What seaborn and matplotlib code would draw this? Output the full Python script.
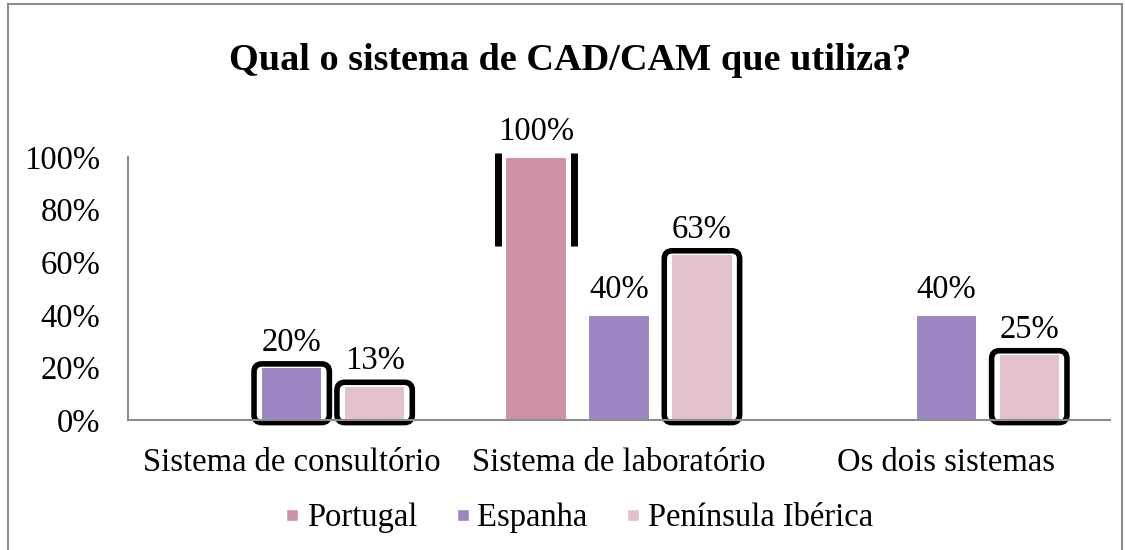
import matplotlib
matplotlib.use("Agg")
import matplotlib.pyplot as plt
import seaborn as sns
import pandas as pd
from matplotlib.patches import FancyBboxPatch, Rectangle
from matplotlib.lines import Line2D

categories = ["Sistema de consultório", "Sistema de laboratório", "Os dois sistemas"]
series = ["Portugal", "Espanha", "Península Ibérica"]
portugal = [0, 100, 0]
espanha = [20, 40, 40]
iberica = [13, 63, 25]

colors = ["#CF91A5", "#9D85C1", "#E2C1CB"]
# bars drawn with the black "shadow" frame (series index, category index)
framed = [(1, 0), (2, 0), (2, 1), (2, 2)]
side_only = [(0, 1)]

df = pd.DataFrame({
    "categoria": categories * 3,
    "pais": [s for s in series for _ in categories],
    "valor": portugal + espanha + iberica,
})

sns.set_style("white")
plt.rcParams["font.family"] = ["Liberation Serif", "DejaVu Serif"]
plt.rcParams["text.color"] = "black"
plt.rcParams["xtick.color"] = "black"
plt.rcParams["ytick.color"] = "black"

fig = plt.figure(figsize=(11.25, 5.5), dpi=100)
ax = fig.add_axes([0.1138, 0.2364, 0.8729, 0.4782])

sns.barplot(data=df, x="categoria", y="valor", hue="pais", order=categories,
            hue_order=series, palette=colors, width=0.76, gap=0.26,
            edgecolor="white", linewidth=1.5, saturation=1, ax=ax, legend=False)

ax.set_xlim(-0.5, 2.5)
ax.set_ylim(0, 100)
ax.set_yticks([0, 20, 40, 60, 80, 100])
ax.set_yticklabels([f"{v}%" for v in [0, 20, 40, 60, 80, 100]])
ax.set_xlabel("")
ax.set_ylabel("")
ax.tick_params(axis="both", length=0, labelsize=23.5, labelcolor="black")
ax.tick_params(axis="y", pad=20)
ax.tick_params(axis="x", pad=20)
for side in ["top", "right"]:
    ax.spines[side].set_visible(False)
for side in ["left", "bottom"]:
    ax.spines[side].set_color("#8C8C8C")
    ax.spines[side].set_linewidth(1.5)

# pixel -> data conversion for the frame padding
xpx = 3 / 982.0
ypx = 100 / 263.0
aspect = ypx / xpx

for si, ci in framed:
    bar = ax.containers[si][ci]
    x0, w, h = bar.get_x(), bar.get_width(), bar.get_height()
    frame = FancyBboxPatch((x0 - 7 * xpx, -1), w + 14 * xpx, h + 1 + 3.5 * ypx,
                           boxstyle=f"round,pad=0,rounding_size={8 * xpx}",
                           mutation_aspect=aspect, fill=False, edgecolor="black",
                           linewidth=4, clip_on=False, zorder=1)
    ax.add_patch(frame)

for si, ci in side_only:
    bar = ax.containers[si][ci]
    x0, w, h = bar.get_x(), bar.get_width(), bar.get_height()
    ax.vlines([x0 - 7.5 * xpx, x0 + w + 7.5 * xpx], 66, h + 1.5,
              colors="black", linewidth=5, clip_on=False, zorder=1)

for container in ax.containers:
    labels = [f"{b.get_height():.0f}%" if b.get_height() > 0 else "" for b in container]
    ax.bar_label(container, labels=labels, padding=7, fontsize=23.5, color="black")

fig.text(0.507, 0.89, "Qual o sistema de CAD/CAM que utiliza?", ha="center",
         va="center", fontsize=27.5, fontweight="bold", color="black")

handles = [Line2D([], [], marker="s", linestyle="", markersize=8,
                  markerfacecolor=c, markeredgecolor="white") for c in colors]
fig.legend(handles, series, loc="center", bbox_to_anchor=(0.515, 0.058), ncol=3,
           frameon=False, fontsize=23.5, handlelength=0.4, handletextpad=0.25,
           columnspacing=1.2)

fig.add_artist(Rectangle((0.007, -0.01), 0.99, 1.003, transform=fig.transFigure,
                         fill=False, edgecolor="#8C8C8C", linewidth=1.5))

fig.savefig("out.png", dpi=100)
